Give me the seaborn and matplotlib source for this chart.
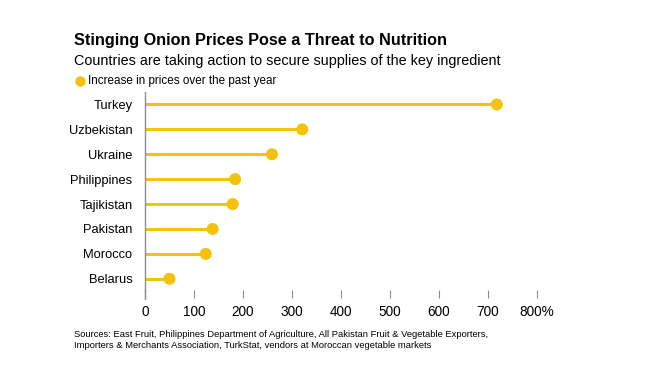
import numpy as np
import pandas as pd
import matplotlib.pyplot as plt
from matplotlib.lines import Line2D
import seaborn as sns

sns.set_theme(style="white")
plt.rcParams['font.family'] = ['Liberation Sans', 'DejaVu Sans']
plt.rcParams['text.color'] = 'black'
plt.rcParams['xtick.color'] = 'black'
plt.rcParams['ytick.color'] = 'black'

countries = ['Turkey', 'Uzbekistan', 'Ukraine', 'Philippines', 'Tajikistan',
             'Pakistan', 'Morocco', 'Belarus']
increase = [718, 321, 259, 184, 179, 138, 124, 50]
ticks = [0, 100, 200, 300, 400, 500, 600, 700, 800]
tick_labels = ['0', '100', '200', '300', '400', '500', '600', '700', '800%']

df = pd.DataFrame({'Country': countries, 'Increase': increase})
yellow = '#F4C20D'
grey = '#8c8c8c'

fig = plt.figure(figsize=(6.63, 3.72), dpi=100)
ax = fig.add_axes([145 / 663, 1 - 290 / 372, (537 - 145) / 663, (290 - 92) / 372])

ypos = np.arange(len(countries))
ax.hlines(ypos, 0, df['Increase'], color=yellow, linewidth=2.2, zorder=2)
sns.scatterplot(data=df, x='Increase', y=ypos, color=yellow, s=75,
                edgecolor='none', ax=ax, zorder=3, legend=False)

n = len(countries)
ax.set_xlim(0, 800)
ax.set_ylim(n - 0.55, -0.5)
ax.set_yticks(ypos)
ax.set_yticklabels(countries, fontsize=9.3)
ax.set_xticks(ticks)
ax.set_xticklabels(tick_labels, fontsize=9.8)
ax.tick_params(axis='x', bottom=True, length=6, width=0.8, color=grey,
               labelcolor='black', direction='out', pad=5)
ax.tick_params(axis='y', left=False, length=0, pad=9, labelcolor='black')
for s in ['top', 'right', 'bottom']:
    ax.spines[s].set_visible(False)
ax.spines['left'].set_color(grey)
ax.spines['left'].set_linewidth(1)
ax.set_xlabel('')
ax.set_ylabel('')
# extend the left axis line down past the tick marks
ax.plot([0, 0], [n - 0.55, n - 0.2], color=grey, linewidth=1, clip_on=False)

fig.text(74 / 663, 1 - 41 / 372, 'Stinging Onion Prices Pose a Threat to Nutrition',
         fontsize=11.7, fontweight='bold', va='center', ha='left')
fig.text(74 / 663, 1 - 61 / 372, 'Countries are taking action to secure supplies of the key ingredient',
         fontsize=10.35, va='center', ha='left')
fig.add_artist(Line2D([80 / 663], [1 - 81 / 372], marker='o', markersize=6.5,
                      color=yellow, linestyle='none', transform=fig.transFigure))
fig.text(88 / 663, 1 - 81 / 372, 'Increase in prices over the past year',
         fontsize=8.4, va='center', ha='left')
fig.text(74 / 663, 1 - 340 / 372,
         'Sources: East Fruit, Philippines Department of Agriculture, All Pakistan Fruit & Vegetable Exporters,\n'
         'Importers & Merchants Association, TurkStat, vendors at Moroccan vegetable markets',
         fontsize=6.75, va='center', ha='left', linespacing=1.35)

fig.savefig('out.png', dpi=100, facecolor='white')
